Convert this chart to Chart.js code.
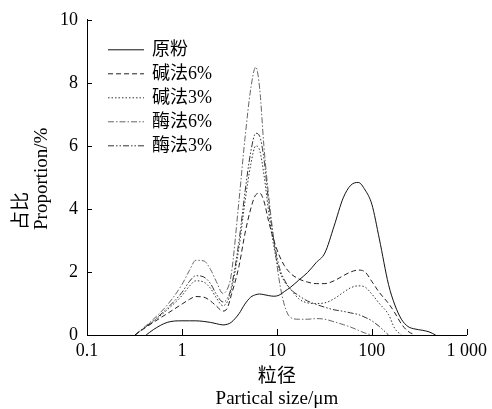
<!DOCTYPE html>
<html>
<head>
<meta charset="utf-8">
<script src="https://cdn.jsdelivr.net/npm/chart.js@4/dist/chart.umd.min.js"></script>
<style>
  html, body { margin: 0; padding: 0; background: #fff; }
  #wrap { width: 492px; height: 409px; position: relative; }
</style>
</head>
<body>
<div id="wrap"><canvas id="c" width="492" height="409"></canvas></div>
<script>
// ---- data (particle size in µm, proportion in %) ----
const sizes = [0.32, 0.42, 0.5, 0.7, 1, 1.2, 1.4, 1.7, 2, 2.3, 2.7, 3.0, 3.3, 4, 4.6, 5.3, 6, 6.6, 7.3, 8.2, 9.3, 10.5, 12, 14, 17, 21, 26, 32, 40, 50, 60, 72, 85, 100, 120, 150, 175, 205, 240, 285, 340, 400, 470];

const yuanfen = [null, 0, 0.17, 0.4, 0.45, 0.45, 0.45, 0.43, 0.4, 0.36, 0.32, 0.34, 0.4, 0.68, 0.98, 1.2, 1.28, 1.3, 1.28, 1.25, 1.23, 1.26, 1.38, 1.52, 1.74, 1.98, 2.3, 2.6, 3.45, 4.35, 4.75, 4.84, 4.6, 4.15, 3.05, 1.6, 0.95, 0.5, 0.27, 0.19, 0.15, 0.1, 0];
const jian6 = [0, 0.25, 0.4, 0.68, 0.98, 1.13, 1.22, 1.2, 1.08, 0.92, 0.76, 0.85, 1.25, 2.2, 3.2, 4.0, 4.45, 4.5, 4.25, 3.6, 3.0, 2.55, 2.2, 1.95, 1.78, 1.68, 1.63, 1.63, 1.72, 1.88, 2.0, 2.06, 2.0, 1.7, 1.35, 1.0, 0.7, 0.35, 0.12, 0, null, null, null];
const jian3 = [0, 0.27, 0.43, 0.8, 1.25, 1.55, 1.72, 1.68, 1.48, 1.18, 0.93, 1.05, 1.4, 2.8, 4.2, 5.4, 6.0, 5.85, 5.1, 3.9, 2.8, 2.1, 1.7, 1.45, 1.15, 1.02, 1.0, 1.02, 1.15, 1.35, 1.5, 1.56, 1.52, 1.3, 1.0, 0.65, 0.2, 0, null, null, null, null, null];
const mei6 = [0, 0.3, 0.5, 0.95, 1.6, 2.05, 2.37, 2.35, 2.08, 1.7, 1.32, 1.45, 1.9, 4.3, 6.2, 7.8, 8.5, 7.8, 6.0, 4.4, 3.0, 1.8, 0.95, 0.55, 0.5, 0.5, 0.52, 0.5, 0.42, 0.33, 0.25, 0.15, 0.06, 0, null, null, null, null, null, null, null, null, null];
const mei3 = [0, 0.27, 0.45, 0.85, 1.35, 1.7, 1.88, 1.84, 1.63, 1.3, 1.05, 1.15, 1.5, 3.0, 4.5, 5.8, 6.4, 6.3, 5.6, 4.2, 3.0, 2.2, 1.75, 1.45, 1.25, 1.08, 0.97, 0.88, 0.8, 0.75, 0.7, 0.65, 0.56, 0.45, 0.27, 0, null, null, null, null, null, null, null];

const seriesNames = ['原粉', '碱法6%', '碱法3%', '酶法6%', '酶法3%'];
const xTickValues = [0.1, 1, 10, 100, 1000];
const xTickLabels = ['0.1', '1', '10', '100', '1 000'];
const yTickValues = [0, 2, 4, 6, 8, 10];
const xTitleLines = ['粒径', 'Partical size/μm'];
const yTitleLines = ['占比', 'Proportion/%'];

// ---- styles ----
const SERIF = '"Liberation Serif", "Times New Roman", "Noto Sans CJK SC", serif';
const styles = [
  { color: '#111', dash: [] },
  { color: '#222', dash: [5, 3] },
  { color: '#333', dash: [1.5, 2] },
  { color: '#666', dash: [6, 2, 1.5, 2] },
  { color: '#333', dash: [6, 2, 1.5, 2, 1.5, 2] }
];
const allSeries = [yuanfen, jian6, jian3, mei6, mei3];

const datasets = allSeries.map((vals, k) => ({
  label: seriesNames[k],
  data: sizes.map((x, i) => ({ x: x, y: vals[i] })),
  borderColor: styles[k].color,
  borderDash: styles[k].dash,
  borderWidth: 1,
  pointRadius: 0,
  fill: false,
  spanGaps: false,
  cubicInterpolationMode: 'monotone'
}));

const decorations = {
  id: 'decorations',
  afterDraw(chart) {
    const ctx = chart.ctx;
    const area = chart.chartArea;
    const xs = chart.scales.x, ys = chart.scales.y;
    ctx.save();
    // inward ticks
    ctx.strokeStyle = '#000';
    ctx.lineWidth = 1;
    ctx.setLineDash([]);
    xTickValues.forEach(v => {
      const px = Math.round(xs.getPixelForValue(v)) + 0.5;
      ctx.beginPath(); ctx.moveTo(px, area.bottom); ctx.lineTo(px, area.bottom - 6); ctx.stroke();
    });
    yTickValues.forEach(v => {
      const py = Math.round(ys.getPixelForValue(v)) + 0.5;
      ctx.beginPath(); ctx.moveTo(area.left, py); ctx.lineTo(area.left + 5, py); ctx.stroke();
    });
    // legend inside the plot
    ctx.font = '18px ' + SERIF;
    ctx.textBaseline = 'middle';
    ctx.textAlign = 'left';
    chart.data.datasets.forEach((ds, i) => {
      const y = area.top + 30 + i * 24;
      ctx.strokeStyle = ds.borderColor;
      ctx.lineWidth = 1;
      ctx.setLineDash(ds.borderDash || []);
      ctx.beginPath(); ctx.moveTo(area.left + 21, y); ctx.lineTo(area.left + 57, y); ctx.stroke();
      ctx.setLineDash([]);
      ctx.fillStyle = '#000';
      ctx.fillText(ds.label, area.left + 65, y);
    });
    // axis titles
    ctx.font = '19px ' + SERIF;
    ctx.textAlign = 'center';
    ctx.fillStyle = '#000';
    const cx = (area.left + area.right) / 2;
    ctx.fillText(xTitleLines[0], cx, area.bottom + 42);
    ctx.fillText(xTitleLines[1], cx, area.bottom + 64);
    ctx.textAlign = 'left';
    ctx.save();
    ctx.translate(22, 230);
    ctx.rotate(-Math.PI / 2);
    ctx.fillText(yTitleLines[0], 0, 0);
    ctx.restore();
    ctx.save();
    ctx.translate(42, 230);
    ctx.rotate(-Math.PI / 2);
    ctx.fillText(yTitleLines[1], 0, 0);
    ctx.restore();
    ctx.restore();
  }
};

new Chart(document.getElementById('c'), {
  type: 'line',
  data: { datasets: datasets },
  options: {
    responsive: false,
    animation: false,
    devicePixelRatio: 1,
    layout: { padding: { top: 18, right: 24, left: 0, bottom: 0 } },
    plugins: { legend: { display: false }, tooltip: { enabled: false } },
    scales: {
      x: {
        type: 'logarithmic',
        min: 0.1,
        max: 1000,
        afterBuildTicks: s => { s.ticks = xTickValues.map(v => ({ value: v })); },
        afterFit: s => { s.height = 74; },
        ticks: {
          autoSkip: false,
          maxRotation: 0,
          padding: 5,
          color: '#000',
          font: { family: SERIF, size: 18 },
          callback: (v, i) => xTickLabels[i]
        },
        grid: { display: false, drawTicks: false },
        border: { display: true, color: '#000', width: 1 }
      },
      y: {
        min: 0,
        max: 10,
        afterBuildTicks: s => { s.ticks = yTickValues.map(v => ({ value: v })); },
        afterFit: s => { s.width = 87; },
        ticks: {
          padding: 9,
          color: '#000',
          font: { family: SERIF, size: 18 },
          callback: v => String(v)
        },
        grid: { display: false, drawTicks: false },
        border: { display: true, color: '#000', width: 1 }
      }
    }
  },
  plugins: [decorations]
});
</script>
</body>
</html>
